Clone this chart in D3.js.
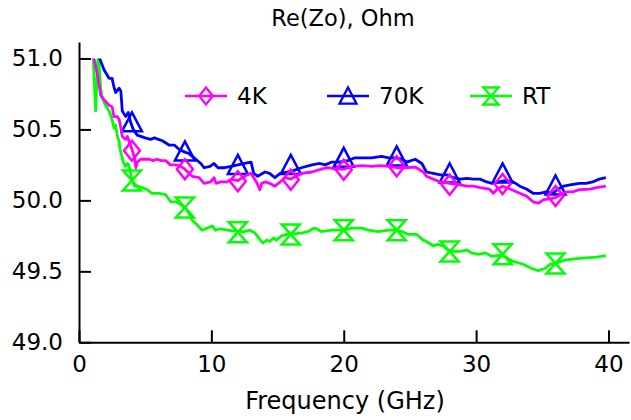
<!DOCTYPE html>
<html><head><meta charset="utf-8">
<script src="https://cdn.jsdelivr.net/npm/d3@7"></script>
<style>
html,body{margin:0;padding:0;background:#fff;}
svg text{font-family:"DejaVu Sans",Verdana,sans-serif;fill:#000;}
</style></head>
<body><svg id="c" width="631" height="420"></svg>
<script>
const title = "Re(Zo), Ohm";
const xLabel = "Frequency (GHz)";
const seriesNames = ["4K", "70K", "RT"];
const xTicks = [0, 10, 20, 30, 40];
const yTicks = [49.0, 49.5, 50.0, 50.5, 51.0];

const freq4K = [1.0,1.13,1.38,1.56,1.64,1.89,2.27,2.5,2.64,2.9,3.04,3.16,3.27,3.53,3.65,3.85,4.0,4.2,4.3,4.4,4.65,5.0,5.3,5.6,5.9,6.2,6.55,6.9,7.3,7.7,8.0,8.55,9.07,9.45,9.95,10.2,10.35,10.7,11.2,11.5,12.0,12.7,13.0,13.4,13.67,13.8,14.05,14.4,14.8,15.2,15.55,16.0,16.4,16.8,17.6,18.3,18.8,19.4,20.0,20.6,21.35,22.1,22.8,23.4,24.0,24.6,25.4,26.0,26.25,26.75,27.3,28.0,28.8,29.3,29.8,30.3,31.0,31.3,31.6,32.0,32.7,33.3,33.8,34.3,34.7,35.1,35.6,36.0,36.4,36.8,37.3,37.8,38.6,39.1,39.8];
const val4K = [51.1,51.0,50.89,50.79,50.74,50.71,50.67,50.66,50.59,50.59,50.57,50.51,50.45,50.43,50.45,50.40,50.36,50.30,50.23,50.27,50.29,50.29,50.29,50.28,50.29,50.28,50.28,50.25,50.25,50.24,50.22,50.17,50.16,50.12,50.13,50.16,50.12,50.13,50.13,50.15,50.14,50.18,50.19,50.13,50.075,50.12,50.13,50.12,50.10,50.13,50.16,50.15,50.17,50.19,50.20,50.22,50.23,50.22,50.22,50.24,50.245,50.24,50.245,50.24,50.23,50.23,50.235,50.20,50.17,50.15,50.13,50.12,50.11,50.10,50.10,50.09,50.08,50.05,50.08,50.10,50.075,50.05,50.03,49.99,49.98,50.005,50.01,50.02,50.04,50.06,50.06,50.075,50.08,50.09,50.10];

const freq70K = [1.4,1.56,1.89,2.27,2.5,2.64,2.77,3.04,3.16,3.27,3.53,3.72,3.9,4.1,4.4,5.0,5.4,5.7,6.0,6.3,6.8,7.2,7.55,8.0,8.3,8.7,9.2,9.45,9.9,10.2,10.5,11.0,11.5,12.0,12.5,13.0,13.2,13.5,14.05,14.4,14.8,15.2,15.7,16.2,16.8,17.6,18.2,18.6,19.1,19.6,20.3,20.85,21.6,22.1,22.85,23.4,23.9,24.4,24.75,25.4,25.9,26.25,26.75,27.3,27.8,28.3,28.8,29.3,29.8,30.3,30.8,31.2,31.7,32.2,32.8,33.3,33.8,34.3,34.8,35.3,35.8,36.2,36.6,37.1,37.8,38.3,38.8,39.3,39.8];
const val70K = [51.1,51.0,50.92,50.86,50.86,50.80,50.76,50.79,50.77,50.63,50.59,50.62,50.55,50.50,50.46,50.44,50.43,50.44,50.43,50.42,50.39,50.39,50.36,50.34,50.33,50.30,50.26,50.23,50.24,50.26,50.23,50.23,50.24,50.25,50.26,50.27,50.19,50.17,50.20,50.19,50.16,50.19,50.20,50.21,50.23,50.25,50.26,50.25,50.27,50.27,50.28,50.30,50.30,50.30,50.31,50.30,50.30,50.29,50.27,50.29,50.26,50.20,50.19,50.18,50.18,50.16,50.15,50.155,50.15,50.15,50.13,50.12,50.13,50.14,50.13,50.10,50.08,50.05,50.05,50.06,50.05,50.08,50.10,50.11,50.12,50.12,50.13,50.15,50.16];

const freqRT = [1.05,1.26,1.45,1.64,1.76,2.0,2.27,2.5,2.64,2.77,2.9,3.02,3.1,3.35,3.5,3.7,3.85,4.0,4.2,4.4,4.78,5.16,5.5,6.04,6.55,6.93,7.3,7.7,8.0,8.3,8.55,8.9,9.3,9.7,10.07,10.3,10.7,11.2,11.6,12.0,12.5,12.9,13.3,13.7,13.9,14.2,14.4,14.7,14.9,15.3,15.7,16.0,16.4,16.8,17.3,17.8,18.3,18.7,19.1,19.6,20.0,20.6,21.35,21.85,22.6,23.4,24.0,24.4,24.9,25.5,26.0,26.25,26.75,27.1,27.5,28.0,28.8,29.3,29.65,30.2,30.7,31.2,31.6,32.0,32.4,32.8,33.55,34.2,34.7,35.2,35.6,36.0,36.4,36.8,37.6,38.3,39.1,39.8];
const valRT = [51.05,50.63,51.05,50.79,50.72,50.67,50.63,50.57,50.51,50.53,50.45,50.42,50.36,50.27,50.24,50.26,50.22,50.14,50.10,50.10,50.09,50.075,50.05,50.05,50.04,49.99,49.99,49.97,49.95,49.91,49.86,49.83,49.79,49.805,49.82,49.79,49.80,49.79,49.785,49.78,49.78,49.79,49.77,49.72,49.70,49.72,49.71,49.735,49.72,49.75,49.76,49.76,49.765,49.77,49.78,49.805,49.78,49.785,49.79,49.79,49.79,49.805,49.805,49.79,49.78,49.79,49.79,49.78,49.76,49.76,49.72,49.71,49.68,49.69,49.68,49.64,49.64,49.65,49.63,49.62,49.63,49.605,49.61,49.615,49.59,49.57,49.55,49.52,49.505,49.52,49.55,49.555,49.57,49.58,49.59,49.595,49.60,49.61];

const markerFreq = [4, 8, 12, 16, 20, 24, 28, 32, 36];
const marker4K = [50.35, 50.22, 50.135, 50.145, 50.215, 50.24, 50.11, 50.115, 50.03];
const marker70K = [50.55, 50.345, 50.25, 50.25, 50.30, 50.31, 50.19, 50.19, 50.105];
const markerRT = [50.14, 49.95, 49.776, 49.76, 49.79, 49.79, 49.64, 49.62, 49.556];

const colors = ["#ff00ff", "#0000ff", "#00ff00"];

const svg = d3.select("#c");
const x = d3.scaleLinear().domain([0, 41.55]).range([79, 629]);
const y = d3.scaleLinear().domain([49, 51.116]).range([342.3, 42]);

svg.append("defs").append("clipPath").attr("id", "clip")
  .append("rect").attr("x", x(0)).attr("y", y(51.0)).attr("width", x(41.55) - x(0)).attr("height", y(49) - y(51.0));

// axes
const yAxis = d3.axisLeft(y).tickValues(yTicks).tickFormat(d3.format(".1f")).tickSizeInner(-12).tickSizeOuter(0).tickPadding(16);
const gy = svg.append("g").attr("transform", `translate(${x(0)},0)`).call(yAxis);
const xAxis = d3.axisBottom(x).tickValues(xTicks).tickFormat(d3.format("d")).tickSizeInner(-12).tickSizeOuter(0).tickPadding(13);
const gx = svg.append("g").attr("transform", `translate(0,${y(49)})`).call(xAxis);
[gx, gy].forEach(g => {
  g.select(".domain").attr("stroke", "#000").attr("stroke-width", 2);
  g.selectAll(".tick line").attr("stroke", "#000").attr("stroke-width", 2);
  g.selectAll(".tick text").attr("font-size", 23).attr("font-family", "DejaVu Sans").attr("fill", "#000");
});

svg.append("text").attr("x", 343).attr("y", 26).attr("text-anchor", "middle").attr("font-size", 22.5).text(title);
svg.append("text").attr("x", 345).attr("y", 409).attr("text-anchor", "middle").attr("font-size", 24).text(xLabel);

// marker shapes
function markerPath(kind) {
  if (kind === 0) return "M0,-10L8,0L0,10L-8,0Z";            // diamond
  if (kind === 1) return "M0,-10L10,9L-10,9Z";               // triangle
  return "M-9,-10L9,-10L-9,10L9,10Z";                        // hourglass
}

const series = [
  {f: freq4K, v: val4K, m: marker4K},
  {f: freq70K, v: val70K, m: marker70K},
  {f: freqRT, v: valRT, m: markerRT}
];
const line = d3.line().x(d => x(d[0])).y(d => y(d[1]));
const plot = svg.append("g").attr("clip-path", "url(#clip)");
[2, 1, 0].forEach(i => {
  const s = series[i];
  const pts = s.f.map((f, j) => [f, s.v[j]]);
  plot.append("path").attr("d", line(pts)).attr("fill", "none")
    .attr("stroke", colors[i]).attr("stroke-width", 2.8).attr("stroke-linejoin", "round");
  plot.selectAll(null).data(markerFreq.map((f, j) => [f, s.m[j]])).enter()
    .append("path").attr("d", markerPath(i))
    .attr("transform", d => `translate(${x(d[0])},${y(d[1])})`)
    .attr("fill", "none").attr("stroke", colors[i]).attr("stroke-width", 2.5);
});

// legend
const legX = [185, 327, 470];
seriesNames.forEach((name, i) => {
  const g = svg.append("g").attr("transform", `translate(${legX[i]},96)`);
  g.append("line").attr("x1", 0).attr("x2", 42).attr("y1", 0).attr("y2", 0).attr("stroke", colors[i]).attr("stroke-width", 2.5);
  g.append("path").attr("d", markerPath(i)).attr("transform", `translate(21,0) scale(0.85)`)
    .attr("fill", "none").attr("stroke", colors[i]).attr("stroke-width", 2.7);
  g.append("text").attr("x", 52).attr("y", 0).attr("dy", "0.36em").attr("font-size", 23).text(name);
});
</script></body></html>
